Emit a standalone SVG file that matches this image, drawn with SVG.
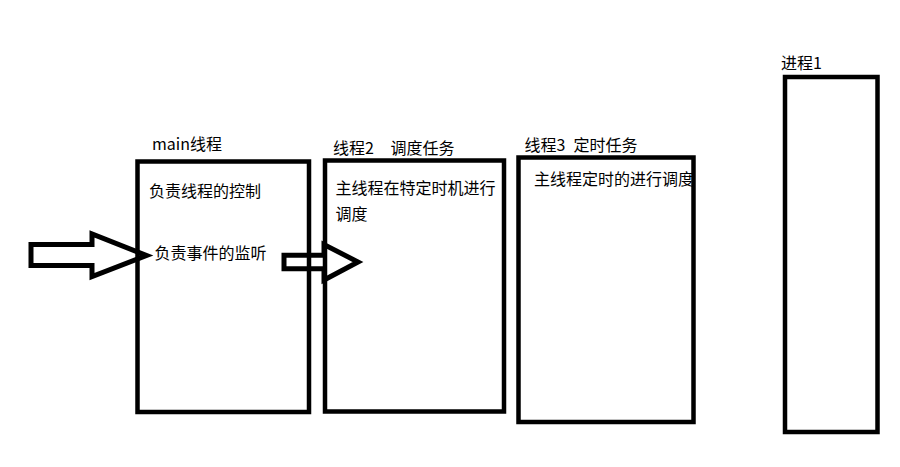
<svg xmlns="http://www.w3.org/2000/svg" width="900" height="467" viewBox="0 0 900 467">
<style>
.box{fill:none;stroke:#000;stroke-width:4.5}
.arr{fill:none;stroke:#000;stroke-width:5;stroke-linejoin:miter}
text{font-family:"Microsoft YaHei","Noto Sans CJK SC",sans-serif;font-size:16px;fill:#000}
</style>
<rect width="900" height="467" fill="#fff"/>
<g id="node-main">
<text x="152" y="150">main线程</text>
<text x="149" y="196.5">负责线程的控制</text>
<text x="154.5" y="259">负责事件的监听</text>
<rect class="box" x="137.5" y="161.5" width="171.5" height="250.5"/>
</g>
<g id="node-thread2">
<text x="333" y="154">线程2</text>
<text x="390.5" y="154">调度任务</text>
<text x="335.5" y="193.5">主线程在特定时机进行</text>
<text x="335.5" y="219.5">调度</text>
<rect class="box" x="325" y="160.5" width="179" height="251"/>
</g>
<g id="node-thread3">
<text x="524.5" y="151">线程3</text>
<text x="573.5" y="151">定时任务</text>
<text x="534" y="185">主线程定时的进行调度</text>
<rect class="box" x="518.5" y="157.5" width="175" height="264.5"/>
</g>
<g id="node-process1">
<text x="781" y="68.5">进程1</text>
<rect class="box" x="785" y="77" width="92.5" height="355"/>
</g>
<g id="connectors">
<polygon class="arr" points="31,244.5 92,244.5 92,234 146.5,255.5 92,276.5 92,265.5 31,265.5"/>
<polygon class="arr" points="284,255.3 324,255.3 324,244.5 358,262 324,280 324,268.7 284,268.7"/>
</g>
</svg>
